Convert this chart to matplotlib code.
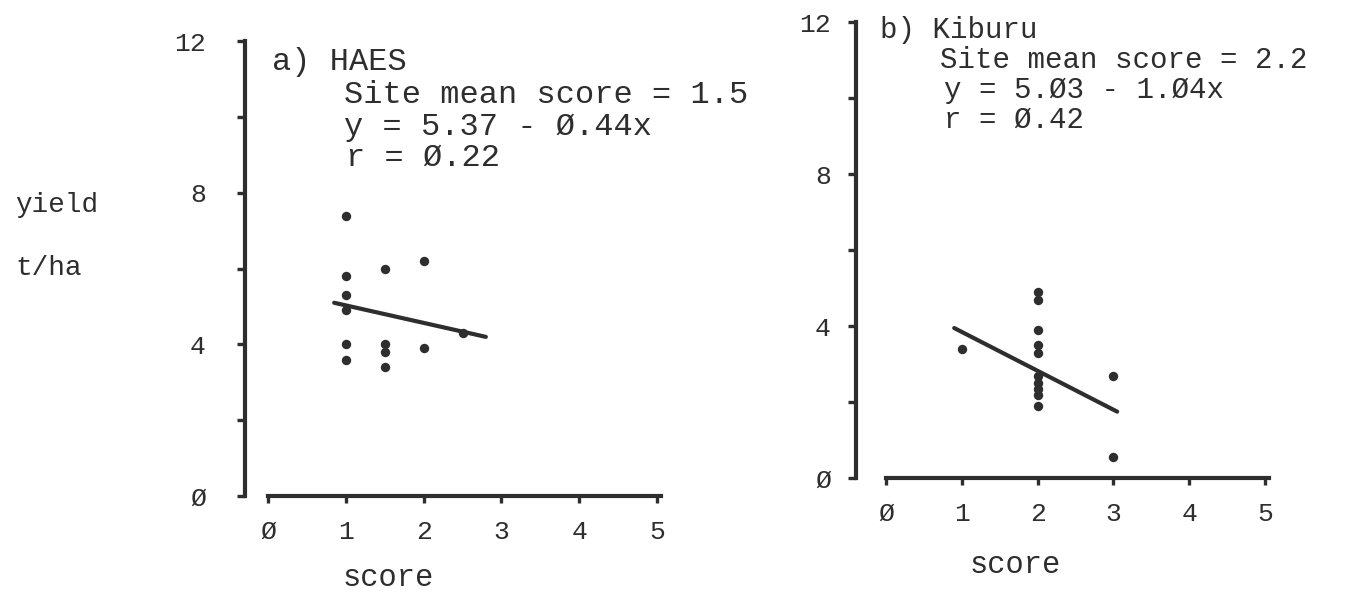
import matplotlib
matplotlib.use('Agg')
import matplotlib.pyplot as plt

plt.rcParams['font.family'] = ['Liberation Mono', 'DejaVu Sans Mono']

ink = '#2e2e2e'

# panel a) HAES - scores and yields
a_score = [1, 1, 1, 1, 1, 1, 1.5, 1.5, 1.5, 1.5, 2, 2, 2.5]
a_yield = [7.4, 5.8, 5.3, 4.9, 4.0, 3.6, 6.0, 4.0, 3.8, 3.4, 6.2, 3.9, 4.3]
a_line_x = [0.85, 2.8]
a_line_y = [5.1, 4.2]
a_text = ['a) HAES', 'Site mean score = 1.5', 'y = 5.37 - Ø.44x', 'r = Ø.22']

# panel b) Kiburu
b_score = [1, 2, 2, 2, 2, 2, 2, 2, 2, 2, 2, 3, 3]
b_yield = [3.4, 4.9, 4.7, 3.9, 3.5, 3.3, 2.7, 2.5, 2.35, 2.2, 1.9, 2.7, 0.55]
b_line_x = [0.9, 3.05]
b_line_y = [3.95, 1.75]
b_text = ['b) Kiburu', 'Site mean score = 2.2', 'y = 5.Ø3 - 1.Ø4x', 'r = Ø.42']

x_ticks = [0, 1, 2, 3, 4, 5]
x_labels = ['Ø', '1', '2', '3', '4', '5']
y_ticks = [0, 2, 4, 6, 8, 10, 12]
y_labels = ['Ø', '', '4', '', '8', '', '12']

fig = plt.figure(figsize=(13.6, 5.97), dpi=100)
ax_a = fig.add_axes([0.1742, 0.150, 0.3146, 0.800])
ax_b = fig.add_axes([0.6236, 0.180, 0.3121, 0.802])


def style(ax, score, yld, lx, ly, yoff, ypad):
    ax.scatter(score, yld, s=46, color=ink, zorder=3, linewidths=0)
    ax.plot(lx, ly, color=ink, lw=3.0, solid_capstyle='round')
    ax.set_xlim(yoff - 0.1, 5.1)
    ax.set_ylim(-0.3, 12.3)
    for s in ['top', 'right']:
        ax.spines[s].set_visible(False)
    ax.spines['left'].set_position(('data', yoff))
    ax.spines['left'].set_bounds(0, 12)
    ax.spines['bottom'].set_position(('data', 0))
    ax.spines['bottom'].set_bounds(0, 5.05)
    for s in ['left', 'bottom']:
        ax.spines[s].set_linewidth(3.0)
        ax.spines[s].set_color(ink)
    ax.set_xticks(x_ticks)
    ax.set_xticklabels(x_labels)
    ax.set_yticks(y_ticks)
    ax.set_yticklabels(y_labels)
    ax.tick_params(axis='x', direction='out', length=5, width=2.4, color=ink,
                   labelsize=19, labelcolor=ink, pad=12)
    ax.tick_params(axis='y', direction='out', length=6, width=2.4, color=ink,
                   labelsize=19, labelcolor=ink, pad=ypad)
    ax.patch.set_visible(False)


style(ax_a, a_score, a_yield, a_line_x, a_line_y, -0.3, 22)
style(ax_b, b_score, b_yield, b_line_x, b_line_y, -0.4, 12)

# annotation blocks, pixel positions from the scan
W, H = 1360, 597
a_pos = [(272, 62), (344, 95), (344, 127), (346, 158)]
b_pos = [(880, 30), (940, 60), (944, 90), (944, 120)]
for txt, (px, py) in zip(a_text, a_pos):
    fig.text(px / W, 1 - py / H, txt, fontsize=23, color=ink, ha='left', va='center')
for txt, (px, py) in zip(b_text, b_pos):
    fig.text(px / W, 1 - py / H, txt, fontsize=21, color=ink, ha='left', va='center')

fig.text(388 / W, 1 - 578 / H, 'score', fontsize=22, color=ink, ha='center', va='center')
fig.text(1015 / W, 1 - 565 / H, 'score', fontsize=22, color=ink, ha='center', va='center')
fig.text(15 / W, 1 - 205 / H, 'yield', fontsize=20, color=ink, ha='left', va='center')
fig.text(15 / W, 1 - 268 / H, 't/ha', fontsize=20, color=ink, ha='left', va='center')

fig.savefig('out.png', dpi=100)
